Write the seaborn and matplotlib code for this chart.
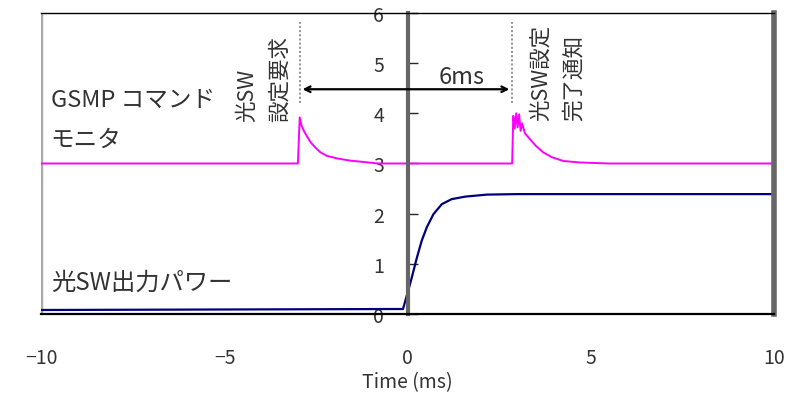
import matplotlib
matplotlib.use("Agg")
import matplotlib.pyplot as plt
import seaborn as sns

sns.set_style("white")
plt.rcParams['font.family'] = ['Noto Sans CJK JP', 'DejaVu Sans']

# GSMP command monitor trace (magenta)
cmd_t = [-10.0, -3.0, -2.95, -2.9, -2.8, -2.65, -2.5, -2.38, -2.2, -1.92, -1.6, -1.2, -0.8,
         2.85, 2.88, 2.92, 2.96, 3.0, 3.04, 3.08, 3.12, 3.2, 3.34, 3.5, 3.7, 3.95, 4.25, 4.7, 5.5, 10.0]
cmd_v = [3.0, 3.0, 3.92, 3.75, 3.6, 3.42, 3.3, 3.22, 3.15, 3.1, 3.06, 3.03, 3.0,
         3.0, 3.95, 3.7, 4.0, 3.72, 3.98, 3.65, 3.8, 3.6, 3.48, 3.35, 3.22, 3.12, 3.05, 3.02, 3.0, 3.0]

# optical SW output power trace (navy)
pwr_t = [-10.0, -0.13, -0.03, 0.1, 0.24, 0.38, 0.52, 0.7, 0.93, 1.2, 1.57, 2.16, 3.0, 10.0]
pwr_v = [0.08, 0.1, 0.36, 0.7, 1.1, 1.46, 1.73, 1.99, 2.19, 2.29, 2.34, 2.38, 2.39, 2.39]

x_ticks = [-10, -5, 0, 5, 10]
y_ticks = [0, 1, 2, 3, 4, 5, 6]
req_x, done_x = -2.95, 2.85

fig = plt.figure(figsize=(7.98, 4.02), dpi=100)
ax = fig.add_axes([0.052, 0.2164, 0.918, 0.7488])

sns.lineplot(x=cmd_t, y=cmd_v, sort=False, color="#ff00ff", linewidth=1.4, ax=ax)
sns.lineplot(x=pwr_t, y=pwr_v, sort=False, color="#00007f", linewidth=1.6, ax=ax)

ax.set_xlim(-10, 10)
ax.set_ylim(0, 6)
ax.set_xticks(x_ticks)
ax.set_yticks(y_ticks)
ax.set_xticklabels(["\u221210", "\u22125", "0", "5", "10"])

# frame
ax.spines["left"].set_position(("data", 0))
ax.spines["left"].set_color("#666666")
ax.spines["left"].set_linewidth(3)
ax.spines["right"].set_color("#666666")
ax.spines["right"].set_linewidth(4)
ax.spines["top"].set_color("black")
ax.spines["top"].set_linewidth(1)
ax.spines["bottom"].set_color("black")
ax.spines["bottom"].set_linewidth(1.6)
ax.axvline(-10, color="#aaaaaa", linewidth=2.5, zorder=1)

ax.tick_params(axis="x", direction="in", length=6, width=1, pad=24,
               labelsize=14, labelcolor="#333333")
ax.tick_params(axis="y", direction="in", length=7, width=1, pad=17,
               labelsize=14, labelcolor="#333333", left=True)
ax.set_xlabel("Time (ms)", fontsize=14, color="#333333", labelpad=2)
ax.set_ylabel("")

# event markers
for xv in (req_x, done_x):
    ax.plot([xv, xv], [4.2, 5.82], color="#999999", linestyle=(0, (1, 1)), linewidth=1.5)
ax.annotate("", xy=(req_x, 4.48), xytext=(done_x, 4.48),
            arrowprops=dict(arrowstyle="<->", color="black", lw=1.6))
ax.text(1.46, 4.74, "6ms", fontsize=17, ha="center", va="center", color="#333333")

ax.text(-3.2, 3.84, "光SW\n設定要求", rotation=90, fontsize=15.5, ha="right",
        va="bottom", multialignment="left", color="#333333", linespacing=1.6)
ax.text(3.34, 3.86, "光SW設定\n完了通知", rotation=90, fontsize=15.5, ha="left",
        va="bottom", multialignment="left", color="#333333", linespacing=1.6)

ax.text(-9.75, 4.28, "GSMP コマンド", fontsize=17, ha="left", va="center", color="#333333")
ax.text(-9.75, 3.49, "モニタ", fontsize=17, ha="left", va="center", color="#333333")
ax.text(-9.75, 0.64, "光SW出力パワー", fontsize=17.5, ha="left", va="center", color="#333333")

fig.savefig("out.png", dpi=100)
